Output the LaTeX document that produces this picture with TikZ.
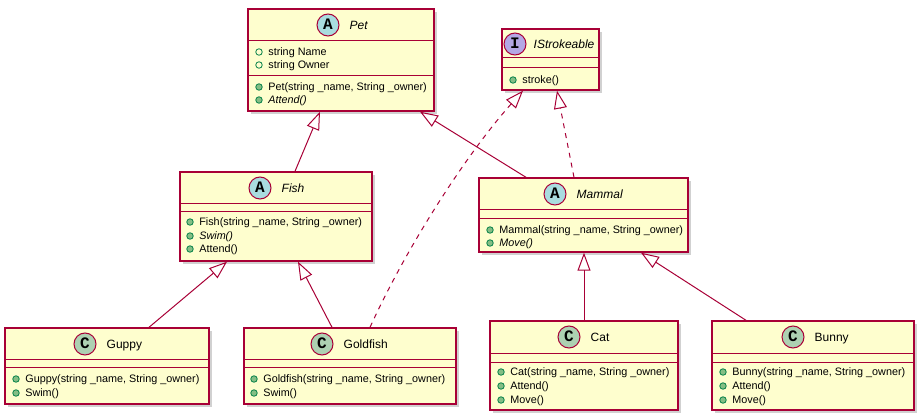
\documentclass[tikz,border=0pt]{standalone}
\usepackage{fontspec}
\setmainfont{Liberation Sans}
\setmonofont{Liberation Mono}
\usepackage{xcolor}
\usepackage{tikz}
\usetikzlibrary{positioning,arrows.meta,shadows}

\definecolor{umlfill}{HTML}{FEFECE}
\definecolor{umlline}{HTML}{A80036}
\definecolor{absfill}{HTML}{A9DCDF}
\definecolor{clsfill}{HTML}{ADD1B2}
\definecolor{intfill}{HTML}{B4A7E5}
\definecolor{pubfill}{HTML}{84BE84}
\definecolor{publine}{HTML}{038048}

\newcommand{\pubrow}[5]{%
  \node[#4] (#1dot) at (#2,#3) {};
  \node[mtext, right=5.5pt of #1dot] (#1) {#5};}

\begin{document}
\begin{tikzpicture}[x=1pt, y=-1pt, node distance=10pt,
  every node/.style={font=\fontsize{10.8}{13}\selectfont},
  cls/.style={draw=umlline, fill=umlfill, line width=1.4pt, inner sep=0pt,
    drop shadow={shadow xshift=3pt, shadow yshift=-3pt, fill=black!40, opacity=0.45}},
  sep/.style={draw=umlline, line width=1pt},
  badge/.style={circle, draw=umlline, line width=1pt, minimum size=22pt, inner sep=0pt,
    font=\fontsize{16}{16}\selectfont\ttfamily\bfseries, text height=8.5pt, text depth=0pt},
  title/.style={inner sep=0pt, font=\fontsize{12}{14}\selectfont, text height=8.6pt, text depth=0pt},
  abstitle/.style={title, font=\fontsize{12}{14}\selectfont\itshape},
  mtext/.style={inner sep=0pt, text height=7.6pt, text depth=0pt},
  field/.style={circle, draw=publine, line width=0.8pt, minimum size=6.5pt, inner sep=0pt},
  method/.style={field, fill=pubfill},
  inherit/.style={draw=umlline, line width=1pt, -{Triangle[open, length=18pt, width=13pt]}},
  realize/.style={inherit, dash pattern=on 5pt off 5pt}]
\useasboundingbox (0,0) rectangle (924,420);

\node[cls, minimum width=186pt, minimum height=102pt] (pet) at (341,60) {};
\draw[sep] (pet.west |- 0,41) -- (pet.east |- 0,41);
\draw[sep] (pet.west |- 0,76) -- (pet.east |- 0,76);
\node[badge, fill=absfill] (petbadge) at (328,25) {A};
\node[abstitle, right=of petbadge] (petname) {Pet};
\pubrow{petfa}{259}{52}{field}{string Name}
\pubrow{petfb}{259}{65}{field}{string Owner}
\pubrow{petma}{259}{87}{method}{Pet(string \_name, String \_owner)}
\pubrow{petmb}{259}{100}{method}{\textit{Attend()}}

\node[cls, minimum width=97pt, minimum height=61pt] (istroke) at (550.5,59.5) {};
\draw[sep] (istroke.west |- 0,58) -- (istroke.east |- 0,58);
\draw[sep] (istroke.west |- 0,68) -- (istroke.east |- 0,68);
\node[badge, fill=intfill] (istrokebadge) at (515,44) {I};
\node[abstitle, right=7pt of istrokebadge] (istrokename) {IStrokeable};
\pubrow{istrokema}{513}{80}{method}{stroke()}

\node[cls, minimum width=192pt, minimum height=89pt] (fish) at (276,216.5) {};
\draw[sep] (fish.west |- 0,203) -- (fish.east |- 0,203);
\draw[sep] (fish.west |- 0,211) -- (fish.east |- 0,211);
\node[badge, fill=absfill] (fishbadge) at (260,188) {A};
\node[abstitle, right=of fishbadge] (fishname) {Fish};
\pubrow{fishma}{190}{222}{method}{Fish(string \_name, String \_owner)}
\pubrow{fishmb}{190}{236}{method}{\textit{Swim()}}
\pubrow{fishmc}{190}{249}{method}{Attend()}

\node[cls, minimum width=209pt, minimum height=74pt] (mammal) at (583.5,215) {};
\draw[sep] (mammal.west |- 0,209) -- (mammal.east |- 0,209);
\draw[sep] (mammal.west |- 0,218) -- (mammal.east |- 0,218);
\node[badge, fill=absfill] (mammalbadge) at (555,194) {A};
\node[abstitle, right=of mammalbadge] (mammalname) {Mammal};
\pubrow{mammalma}{490}{230}{method}{Mammal(string \_name, String \_owner)}
\pubrow{mammalmb}{490}{243}{method}{\textit{Move()}}

\node[cls, minimum width=204pt, minimum height=76pt] (guppy) at (107,366) {};
\draw[sep] (guppy.west |- 0,359) -- (guppy.east |- 0,359);
\draw[sep] (guppy.west |- 0,367) -- (guppy.east |- 0,367);
\node[badge, fill=clsfill] (guppybadge) at (85,344) {C};
\node[title, right=of guppybadge] (guppyname) {Guppy};
\pubrow{guppyma}{16}{379}{method}{Guppy(string \_name, String \_owner)}
\pubrow{guppymb}{16}{393}{method}{Swim()}

\node[cls, minimum width=212pt, minimum height=76pt] (goldfish) at (350,366) {};
\draw[sep] (goldfish.west |- 0,359) -- (goldfish.east |- 0,359);
\draw[sep] (goldfish.west |- 0,367) -- (goldfish.east |- 0,367);
\node[badge, fill=clsfill] (goldfishbadge) at (322,344) {C};
\node[title, right=of goldfishbadge] (goldfishname) {Goldfish};
\pubrow{goldfishma}{254}{379}{method}{Goldfish(string \_name, String \_owner)}
\pubrow{goldfishmb}{254}{393}{method}{Swim()}

\node[cls, minimum width=188pt, minimum height=89pt] (cat) at (584,365.5) {};
\draw[sep] (cat.west |- 0,353) -- (cat.east |- 0,353);
\draw[sep] (cat.west |- 0,362) -- (cat.east |- 0,362);
\node[badge, fill=clsfill] (catbadge) at (569,337) {C};
\node[title, right=of catbadge] (catname) {Cat};
\pubrow{catma}{501}{372}{method}{Cat(string \_name, String \_owner)}
\pubrow{catmb}{501}{386}{method}{Attend()}
\pubrow{catmc}{501}{400}{method}{Move()}

\node[cls, minimum width=202pt, minimum height=89pt] (bunny) at (813,365.5) {};
\draw[sep] (bunny.west |- 0,353) -- (bunny.east |- 0,353);
\draw[sep] (bunny.west |- 0,362) -- (bunny.east |- 0,362);
\node[badge, fill=clsfill] (bunnybadge) at (793,337) {C};
\node[title, right=of bunnybadge] (bunnyname) {Bunny};
\pubrow{bunnyma}{723}{372}{method}{Bunny(string \_name, String \_owner)}
\pubrow{bunnymb}{723}{386}{method}{Attend()}
\pubrow{bunnymc}{723}{400}{method}{Move()}

\draw[inherit] ([xshift=19pt]fish.north) -- ([xshift=-21pt]pet.south);
\draw[inherit] ([xshift=-57.5pt]mammal.north) -- ([xshift=79pt]pet.south);
\draw[realize] ([xshift=-9.5pt]mammal.north) -- ([xshift=6.5pt]istroke.south);
\draw[realize] ([xshift=20pt]goldfish.north) .. controls (410,240) and (470,150) .. ([xshift=-27.5pt]istroke.south);
\draw[inherit] ([xshift=42pt]guppy.north) -- ([xshift=-49pt]fish.south);
\draw[inherit] ([xshift=-18pt]goldfish.north) -- ([xshift=22pt]fish.south);
\draw[inherit] (cat.north) -- (cat.north |- mammal.south);
\draw[inherit] ([xshift=-67pt]bunny.north) -- ([xshift=57.5pt]mammal.south);
\end{tikzpicture}
\end{document}
